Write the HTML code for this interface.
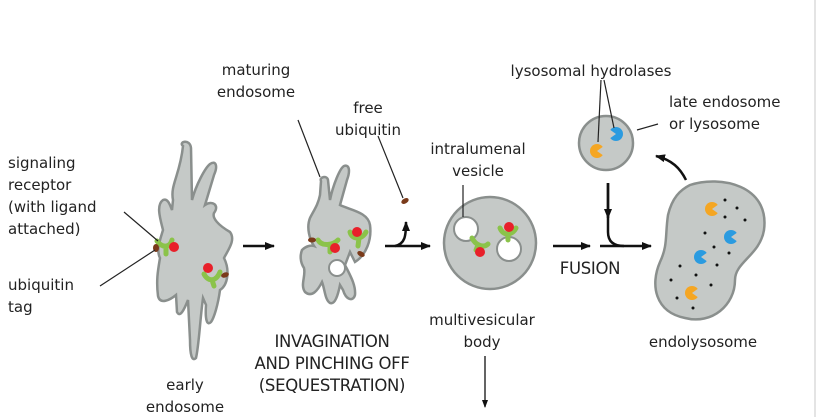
<!DOCTYPE html>
<html><head><style>
html,body{margin:0;padding:0;background:#fff;}
svg{display:block;}
text{font-family:"DejaVu Sans","Liberation Sans",sans-serif;font-size:15px;fill:#222;}
.cap{font-size:16.5px;letter-spacing:-0.3px;}
</style></head><body>
<svg width="826" height="417" viewBox="0 0 826 417" xmlns="http://www.w3.org/2000/svg">
<defs>
<marker id="ah" markerWidth="10" markerHeight="8" refX="9" refY="4" orient="auto" markerUnits="userSpaceOnUse"><path d="M0,0 L10,4 L0,8z" fill="#111"/></marker>
<marker id="as" markerWidth="8" markerHeight="8" refX="7" refY="4" orient="auto" markerUnits="userSpaceOnUse"><path d="M0,1 L8,4 L0,7z" fill="#111"/></marker>
</defs>
<line x1="815" y1="0" x2="815" y2="417" stroke="#e4e4e4" stroke-width="2"/>
<path d="M183,146 C178,142 190,138 191,148 L192,200 C196,185 205,168 210,164 C216,160 218,166 214,175 L205,205 C212,200 220,205 214,213 C212,218 218,225 230,232 C236,240 228,250 224,258 C230,270 228,285 220,290 C218,305 214,318 211,322 C207,326 205,320 206,305 L203,298 C200,320 199,345 196,358 C192,362 190,355 190,340 L188,300 C184,310 180,318 177,312 L176,295 C170,300 160,305 158,296 C156,280 158,270 160,258 C156,250 160,240 163,230 C160,218 156,205 163,200 C168,198 170,205 172,210 L173,200 C170,185 180,175 183,146 Z" fill="#c5c9c7" stroke="#8a8f8d" stroke-width="2.5"/>
<path d="M321,181 C319,177 327,175 328,180 L330,200 C333,185 340,168 344,166 C350,164 350,172 347,180 L340,205 C350,210 368,212 370,225 C372,240 366,255 355,262 L350,252 L345,265 C350,275 356,285 355,295 C353,302 346,300 343,290 L340,285 C338,295 335,305 330,303 C325,300 325,290 322,282 C318,290 312,298 305,292 C300,285 306,276 304,268 C300,262 300,255 302,250 C306,246 311,245 314,246 C310,240 306,228 310,218 C314,210 318,205 320,195 Z" fill="#c5c9c7" stroke="#8a8f8d" stroke-width="2.5"/>
<circle cx="337" cy="268" r="8" fill="#fff" stroke="#8a8f8d" stroke-width="2"/>
<circle cx="490" cy="243" r="46" fill="#c5c9c7" stroke="#8a8f8d" stroke-width="2.5"/>
<circle cx="466" cy="229" r="12" fill="#fff" stroke="#8a8f8d" stroke-width="2"/>
<circle cx="509" cy="249" r="12" fill="#fff" stroke="#8a8f8d" stroke-width="2"/>
<circle cx="606" cy="143" r="27" fill="#c5c9c7" stroke="#8a8f8d" stroke-width="2.5"/>
<path d="M690,185 C720,175 770,185 764,230 C760,255 735,262 735,280 C735,305 712,325 685,318 C655,312 650,285 660,262 C668,245 665,235 668,215 C672,198 680,190 690,185 Z" fill="#c5c9c7" stroke="#8a8f8d" stroke-width="2.5"/>
<g stroke="#8bc34a" stroke-width="5" stroke-linecap="round" fill="none">
<path d="M157,241 C162,248 170,248 172,240 M166,247 L166,254"/>
<path d="M204,274 C208,282 216,282 220,272 M212,280 L214,286"/>
<path d="M318,240 C322,247 333,245 338,240 M330,245 L330,252"/>
<path d="M350,232 C352,240 362,240 366,232 M359,238 L358,246"/>
<path d="M472,238 C476,246 484,248 488,244 M478,245 L476,250"/>
<path d="M500,228 C503,236 512,236 516,228 M508,235 L508,240"/>
</g>
<g fill="#e8202a">
<circle cx="174" cy="247" r="5"/><circle cx="208" cy="268" r="5"/>
<circle cx="335" cy="248" r="5"/><circle cx="357" cy="232" r="5"/>
<circle cx="480" cy="252" r="5"/><circle cx="509" cy="227" r="5"/>
</g>
<g fill="#7a3a1a">
<ellipse cx="156" cy="248" rx="3" ry="4"/><ellipse cx="225" cy="275" rx="4" ry="2.5" transform="rotate(-20 225 275)"/>
<ellipse cx="312" cy="240" rx="4" ry="2.5"/><ellipse cx="361" cy="254" rx="4" ry="2.5" transform="rotate(30 361 254)"/>
<ellipse cx="405" cy="201" rx="4" ry="2.5" transform="rotate(-30 405 201)"/>
</g>
<g>
<circle cx="597" cy="151" r="7" fill="#f5a623"/><path d="M597,151 L604,146 L604,156Z" fill="#c5c9c7"/>
<circle cx="616" cy="134" r="7" fill="#2b9be0"/><path d="M616,134 L609,129 L609,139Z" fill="#c5c9c7"/>
<circle cx="712" cy="209" r="7" fill="#f5a623"/><path d="M712,209 L719,204 L719,214Z" fill="#c5c9c7"/>
<circle cx="731" cy="237" r="7" fill="#2b9be0"/><path d="M731,237 L738,232 L738,242Z" fill="#c5c9c7"/>
<circle cx="701" cy="257" r="7" fill="#2b9be0"/><path d="M701,257 L708,252 L708,262Z" fill="#c5c9c7"/>
<circle cx="692" cy="293" r="7" fill="#f5a623"/><path d="M692,293 L699,288 L699,298Z" fill="#c5c9c7"/>
</g>
<g fill="#111">
<circle cx="725" cy="200" r="1.5"/><circle cx="737" cy="208" r="1.5"/><circle cx="745" cy="220" r="1.5"/><circle cx="725" cy="217" r="1.5"/>
<circle cx="705" cy="233" r="1.5"/><circle cx="714" cy="247" r="1.5"/><circle cx="729" cy="253" r="1.5"/><circle cx="717" cy="265" r="1.5"/>
<circle cx="680" cy="266" r="1.5"/><circle cx="696" cy="275" r="1.5"/><circle cx="711" cy="285" r="1.5"/><circle cx="671" cy="280" r="1.5"/>
<circle cx="677" cy="298" r="1.5"/><circle cx="693" cy="308" r="1.5"/>
</g>
<g stroke="#111" stroke-width="2.5" fill="none">
<line x1="243" y1="246" x2="274" y2="246" marker-end="url(#ah)"/>
<line x1="385" y1="246" x2="430" y2="246" marker-end="url(#ah)"/>
<path d="M395,246 C405,244 406,236 406,222" marker-end="url(#ah)"/>
<line x1="553" y1="246" x2="590" y2="246" marker-end="url(#ah)"/>
<line x1="600" y1="246" x2="651" y2="246" marker-end="url(#ah)"/>
<path d="M608,183 L608,232 C608,242 614,246 624,246"/>
<line x1="608" y1="183" x2="608" y2="218" marker-end="url(#ah)"/>
<path d="M686,180 C680,168 672,160 656,156" marker-end="url(#ah)"/>
</g>
<line x1="485" y1="356" x2="485" y2="407" stroke="#111" stroke-width="1.3" marker-end="url(#as)"/>
<g stroke="#222" stroke-width="1.2" fill="none">
<line x1="124" y1="212" x2="158" y2="241"/>
<line x1="100" y1="286" x2="155" y2="250"/>
<line x1="298" y1="120" x2="320" y2="177"/>
<line x1="378" y1="136" x2="403" y2="198"/>
<line x1="463" y1="185" x2="463" y2="217"/>
<line x1="601" y1="80" x2="598" y2="142"/>
<line x1="604" y1="80" x2="614" y2="128"/>
<line x1="637" y1="130" x2="658" y2="124"/>
</g>
<text x="8" y="168">signaling</text>
<text x="8" y="190">receptor</text>
<text x="8" y="212">(with ligand</text>
<text x="8" y="234">attached)</text>
<text x="8" y="290">ubiquitin</text>
<text x="8" y="312">tag</text>
<text x="256" y="75" text-anchor="middle">maturing</text>
<text x="256" y="97" text-anchor="middle">endosome</text>
<text x="368" y="113" text-anchor="middle">free</text>
<text x="368" y="135" text-anchor="middle">ubiquitin</text>
<text x="478" y="154" text-anchor="middle">intralumenal</text>
<text x="478" y="176" text-anchor="middle">vesicle</text>
<text x="591" y="76" text-anchor="middle">lysosomal hydrolases</text>
<text x="669" y="107">late endosome</text>
<text x="669" y="129">or lysosome</text>
<text class="cap" x="590" y="274" text-anchor="middle">FUSION</text>
<text x="482" y="325" text-anchor="middle">multivesicular</text>
<text x="482" y="347" text-anchor="middle">body</text>
<text x="703" y="347" text-anchor="middle">endolysosome</text>
<text class="cap" x="332" y="347" text-anchor="middle">INVAGINATION</text>
<text class="cap" x="332" y="369" text-anchor="middle">AND PINCHING OFF</text>
<text class="cap" x="332" y="391" text-anchor="middle">(SEQUESTRATION)</text>
<text x="185" y="390" text-anchor="middle">early</text>
<text x="185" y="412" text-anchor="middle">endosome</text>
</svg>
</body></html>
